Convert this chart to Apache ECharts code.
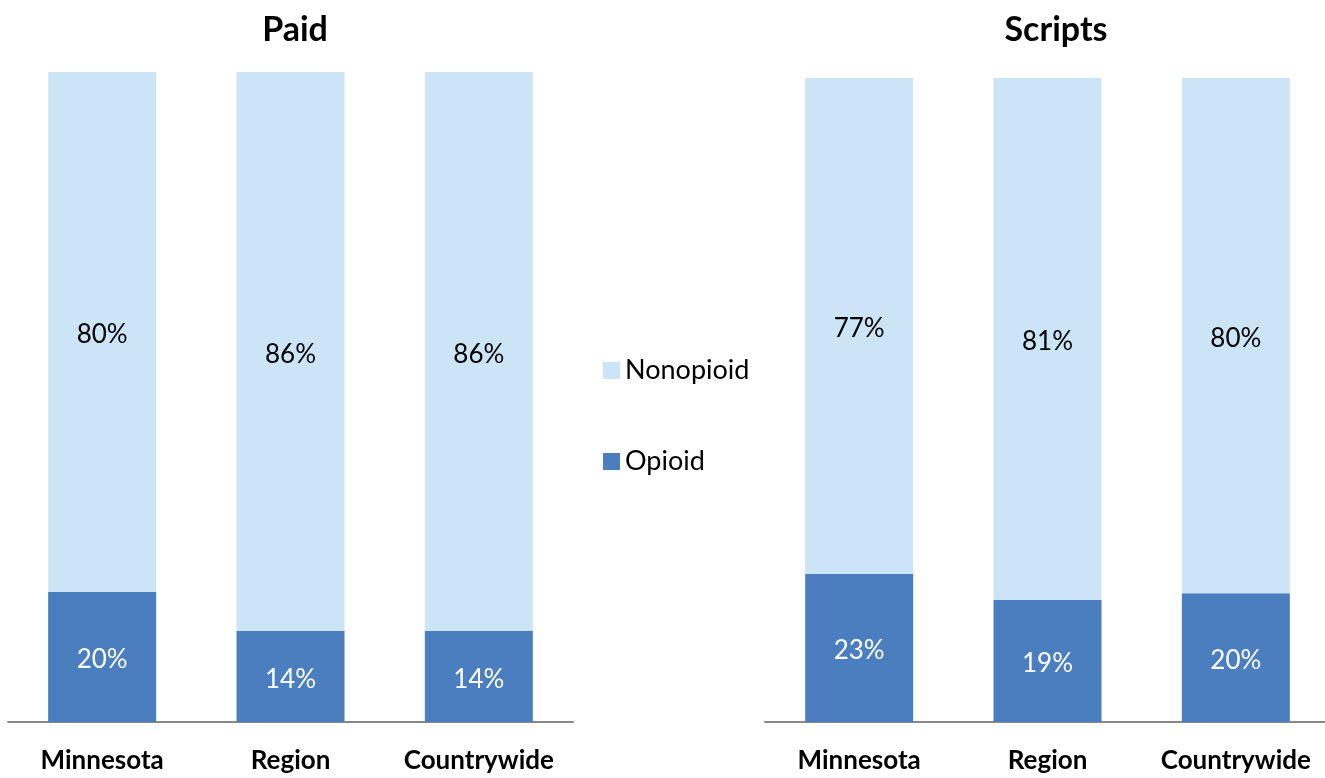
<!DOCTYPE html>
<html>
<head>
<meta charset="utf-8">
<script src="https://cdn.jsdelivr.net/npm/echarts@6/dist/echarts.min.js"></script>
<style>
html,body{margin:0;padding:0;background:#fff;overflow:hidden;}
#chart{width:1332px;height:778px;}
</style>
</head>
<body>
<div id="chart"></div>
<script>
const categories = ['Minnesota', 'Region', 'Countrywide'];
const paidOpioid = [20, 14, 14];
const paidNonopioid = [80, 86, 86];
const scriptsOpioid = [23, 19, 20];
const scriptsNonopioid = [77, 81, 80];
const panelTitles = ['Paid', 'Scripts'];

const FONT = 'Lato, "Open Sans", sans-serif';
const DARK = '#4A7EBF';
const LIGHT = '#CCE5F6';

const chart = echarts.init(document.getElementById('chart'), null, {renderer: 'canvas'});

function xAxis(idx) {
  return {
    type: 'category', gridIndex: idx, data: categories,
    axisLine: {lineStyle: {color: '#888888', width: 2}},
    axisTick: {show: false},
    axisLabel: {color: '#000', fontFamily: FONT, fontWeight: 'bold', fontSize: 26, margin: 26,
      interval: 0, hideOverlap: false}
  };
}
function yAxis(idx) {
  return {
    type: 'value', gridIndex: idx, min: 0, max: 100, show: false,
    splitLine: {show: false}
  };
}
function bar(name, data, idx, color, labelColor) {
  return {
    name: name, type: 'bar', stack: 's' + idx, xAxisIndex: idx, yAxisIndex: idx,
    data: data, barWidth: 108,
    itemStyle: {color: color},
    label: {show: true, position: 'inside', offset: [0, 3], color: labelColor, fontFamily: FONT, fontSize: 26,
      formatter: p => p.value + '%'},
    emphasis: {disabled: true}
  };
}

chart.setOption({
  animation: false,
  title: [
    {text: panelTitles[0], left: 290, top: 8, textAlign: 'center',
     textStyle: {fontFamily: FONT, fontWeight: 'bold', fontSize: 34, color: '#000'}},
    {text: panelTitles[1], left: 1051, top: 8, textAlign: 'center',
     textStyle: {fontFamily: FONT, fontWeight: 'bold', fontSize: 34, color: '#000'}}
  ],
  legend: {
    orient: 'vertical', left: 603, top: 357, itemGap: 64,
    itemWidth: 17, itemHeight: 17, icon: 'rect', padding: 0,
    data: ['Nonopioid', 'Opioid'],
    textStyle: {fontFamily: FONT, fontSize: 27, color: '#000'}
  },
  grid: [
    {left: 8, width: 565, top: 72, height: 650},
    {left: 765, width: 565, top: 78, height: 644}
  ],
  xAxis: [xAxis(0), xAxis(1)],
  yAxis: [yAxis(0), yAxis(1)],
  series: [
    bar('Opioid', paidOpioid, 0, DARK, '#fff'),
    bar('Nonopioid', paidNonopioid, 0, LIGHT, '#000'),
    bar('Opioid', scriptsOpioid, 1, DARK, '#fff'),
    bar('Nonopioid', scriptsNonopioid, 1, LIGHT, '#000')
  ]
});
</script>
</body>
</html>
